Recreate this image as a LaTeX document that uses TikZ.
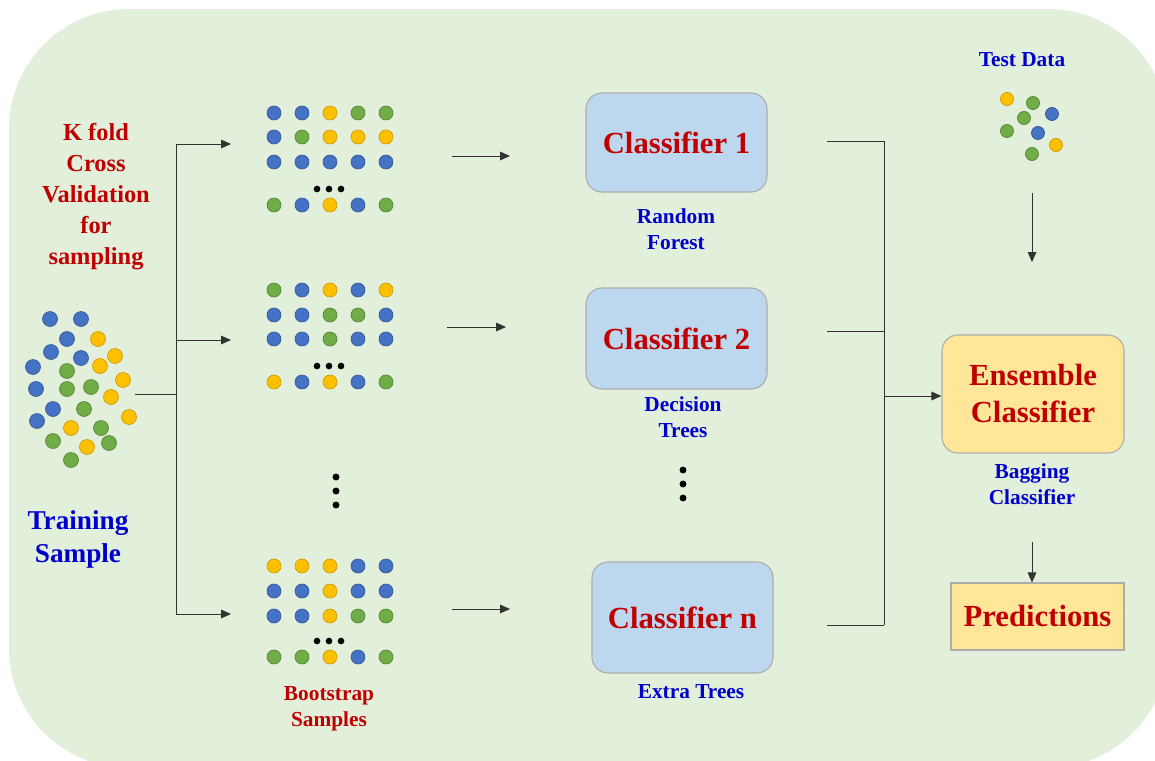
\documentclass[tikz,border=0pt]{standalone}
\usepackage{fontspec}
\setmainfont{Liberation Serif}
\usetikzlibrary{positioning, arrows.meta, calc}

\definecolor{bggreen}{RGB}{226,239,218}
\definecolor{dblue}{RGB}{68,114,196}
\definecolor{dyellow}{RGB}{255,192,0}
\definecolor{dgreen}{RGB}{112,173,71}
\definecolor{boxblue}{RGB}{189,215,238}
\definecolor{boxyellow}{RGB}{255,230,153}
\definecolor{txtred}{RGB}{192,0,0}
\definecolor{txtblue}{RGB}{0,0,204}

\tikzset{
  dotB/.style={fill=dblue, draw=dblue!75!black, line width=0.5pt},
  dotY/.style={fill=dyellow, draw=dyellow!80!black, line width=0.5pt},
  dotG/.style={fill=dgreen, draw=dgreen!75!black, line width=0.5pt},
  clsbox/.style={draw=gray!65, line width=0.8pt, fill=boxblue, rounded corners=12pt, minimum width=135.75pt, text=txtred, font=\bfseries\fontsize{23}{27}\selectfont},
  ensbox/.style={draw=gray!65, line width=0.8pt, fill=boxyellow, align=center, text=txtred, font=\bfseries\fontsize{23}{27.75}\selectfont},
  bluelbl/.style={text=txtblue, align=center, font=\bfseries\fontsize{16}{19.5}\selectfont},
  redlbl/.style={text=txtred, align=center, font=\bfseries\fontsize{16}{19.5}\selectfont},
  conn/.style={line width=0.75pt, black!80},
  arr/.style={conn, -{Triangle[length=7.5pt, width=6.5pt]}}
}

% one row of a bootstrap sample
\newcommand{\dotrow}[2]{\foreach \c [count=\i] in {#2} \draw[dot\c] (246+28*\i, #1) circle[radius=5.25pt];}
\newcommand{\dotgap}[1]{\foreach \x in {317,329,341} \fill (\x, #1) circle[radius=2.5pt];}

\begin{document}
\begin{tikzpicture}[x=0.75pt, y=-0.75pt]

    \clip (0,0) rectangle (1155,760);
    \fill[bggreen, rounded corners=90pt] (9,9) rectangle (1168,768);

    % Training side
    \node[text=txtred, align=center, font=\bfseries\fontsize{18.3}{23.25}\selectfont] (kfold) at (96,197) {K fold\\Cross\\Validation\\for\\sampling};
    \foreach \x/\y/\c in {50/319/B, 81/319/B, 67/339/B, 51/352/B, 81/358/B, 33/367/B, 36/389/B, 53/409/B, 37/421/B,
        98/339/Y, 115/356/Y, 100/366/Y, 123/380/Y, 111/397/Y, 129/417/Y, 71/428/Y, 87/447/Y,
        67/371/G, 67/389/G, 91/387/G, 84/409/G, 101/428/G, 53/441/G, 109/443/G, 71/460/G}
      \draw[dot\c] (\x,\y) circle[radius=5.6pt];
    \node[text=txtblue, align=center, font=\bfseries\fontsize{20.4}{24.75}\selectfont] (train) at (78,539) {Training\\Sample};

    \coordinate (tsE) at (135,394);
    \coordinate (split) at (176,394);
    \coordinate (k1) at (176,144);
    \coordinate (k2) at (176,340);
    \coordinate (kn) at (176,614);
    \coordinate (g1) at (231,144);
    \coordinate (g2) at (231,340);
    \coordinate (gn) at (231,614);
    \draw[conn] (tsE) -- (split);
    \draw[conn] (k1) -- (kn);
    \draw[arr] (k1) -- (g1);
    \draw[arr] (k2) -- (g2);
    \draw[arr] (kn) -- (gn);

    % Bootstrap samples
    \dotrow{113}{B,B,Y,G,G}
    \dotrow{137}{B,G,Y,Y,Y}
    \dotrow{162}{B,B,B,B,B}
    \dotgap{189}
    \dotrow{205}{G,B,Y,B,G}

    \dotrow{290}{G,B,Y,B,Y}
    \dotrow{315}{B,B,G,G,B}
    \dotrow{339}{B,B,G,B,B}
    \dotgap{366}
    \dotrow{382}{Y,B,Y,B,G}

    \foreach \y in {477,491,505} \fill (336,\y) circle[radius=2.6pt];

    \dotrow{566}{Y,Y,Y,B,B}
    \dotrow{591}{B,B,Y,B,B}
    \dotrow{616}{B,B,Y,G,G}
    \dotgap{641}
    \dotrow{657}{G,G,Y,B,G}

    \node[redlbl] (boot) at (329,709) {Bootstrap\\Samples};

    \coordinate (s1) at (452,156);
    \coordinate (c1in) at (510,156);
    \coordinate (s2) at (447,327);
    \coordinate (c2in) at (506,327);
    \coordinate (sn) at (452,609);
    \coordinate (cnin) at (510,609);
    \draw[arr] (s1) -- (c1in);
    \draw[arr] (s2) -- (c2in);
    \draw[arr] (sn) -- (cnin);

    % Classifiers
    \node[clsbox, minimum height=74.25pt] (cls1) at (676.5,142.5) {Classifier 1};
    \node[bluelbl] (rf) at (676,229) {Random\\Forest};
    \node[clsbox, minimum height=75.75pt] (cls2) at (676.5,338.5) {Classifier 2};
    \node[bluelbl] (dt) at (683,417) {Decision\\Trees};
    \foreach \y in {470,484,498} \fill (683,\y) circle[radius=2.6pt];
    \node[clsbox, minimum height=83.25pt] (clsn) at (682.5,617.5) {Classifier n};
    \node[bluelbl] (et) at (691,692) {Extra Trees};

    \coordinate (o1) at (827,141);
    \coordinate (o2) at (827,331);
    \coordinate (on) at (827,625);
    \coordinate (b1) at (884,141);
    \coordinate (b2) at (884,331);
    \coordinate (bn) at (884,625);
    \coordinate (bmid) at (884,396);
    \draw[conn] (o1) -- (b1);
    \draw[conn] (o2) -- (b2);
    \draw[conn] (on) -- (bn);
    \draw[conn] (b1) -- (bn);

    % Ensemble side
    \node[bluelbl] (test) at (1022,60) {Test Data};
    \foreach \x/\y/\c in {1007/99/Y, 1033/103/G, 1052/114/B, 1024/118/G, 1007/131/G, 1038/133/B, 1056/145/Y, 1032/154/G}
      \draw[dot\c] (\x,\y) circle[radius=4.9pt];

    \node[ensbox, rounded corners=12pt, minimum width=136.5pt, minimum height=88.5pt] (ens) at (1033,394) {Ensemble\\Classifier};
    \node[bluelbl] (bag) at (1032,484) {Bagging\\Classifier};
    \node[ensbox, minimum width=129.75pt, minimum height=50.25pt] (pred) at (1037.5,616.5) {Predictions};

    \coordinate (tdS) at (1032,193);
    \coordinate (tdE) at (1032,262);
    \coordinate (bagS) at (1032,542);
    \draw[arr] (tdS) -- (tdE);
    \draw[arr] (bmid) -- (bmid -| ens.west);
    \draw[arr] (bagS) -- (bagS |- pred.north);

\end{tikzpicture}
\end{document}
